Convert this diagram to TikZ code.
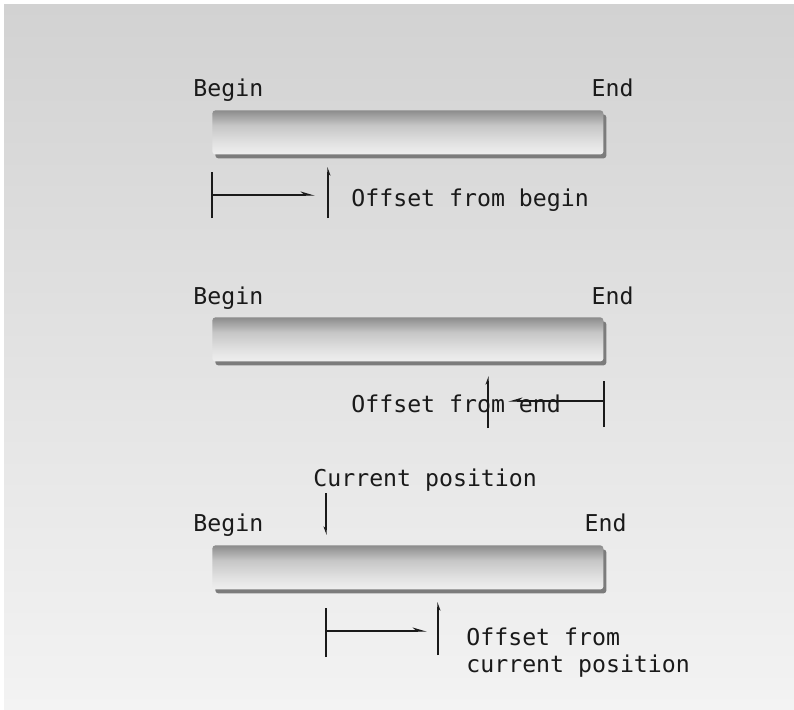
\documentclass[tikz,border=0pt]{standalone}
\usepackage{fontspec}
\setmonofont{DejaVu Sans Mono}
\usepackage{tikz}
\usetikzlibrary{arrows.meta,positioning}

\definecolor{bgtop}{HTML}{D2D2D2}
\definecolor{bgbot}{HTML}{F3F3F3}
\definecolor{bartop}{HTML}{8C8C8C}
\definecolor{barmid}{HTML}{C6C6C6}
\definecolor{barpale}{HTML}{E2E2E2}
\definecolor{barlow}{HTML}{EFEFEF}
\definecolor{baredge}{HTML}{7C7C7C}
\definecolor{ink}{HTML}{1A1A1A}

\pgfdeclareverticalshading{barshade}{100bp}{color(0bp)=(barlow); color(25bp)=(barlow); color(38bp)=(barpale); color(58bp)=(barmid); color(75bp)=(bartop); color(100bp)=(bartop)}

\tikzset{
  lbl/.style={font=\ttfamily\fontsize{11.6}{13.5}\selectfont, text=ink, inner sep=0pt, align=left},
  bar/.style={shade, shading=barshade, minimum width=195.5pt, minimum height=22pt, inner sep=0pt, rounded corners=1.5pt, anchor=north west},
  barback/.style={fill=baredge, minimum width=195.5pt, minimum height=22pt, inner sep=0pt, rounded corners=1.5pt, anchor=north west},
  tickline/.style={draw=ink, line width=0.7pt},
  tickflag/.style={draw=ink, line width=0.7pt, -{Stealth[harpoon,length=3.5pt,width=2.5pt]}},
  offarrow/.style={draw=ink, line width=0.7pt, -{Stealth[harpoon,length=6pt,width=3.5pt]}}
}

\begin{document}
\begin{tikzpicture}[x=0.5pt,y=-0.5pt]
  \useasboundingbox (0,0) rectangle (794,709);
  % Background
  \fill[white] (0,0) rectangle (794,709);
  \shade[top color=bgtop, bottom color=bgbot] (4,4) rectangle (794,709);

  % Offset from begin
  \node[lbl, anchor=base west] (beginA) at (193,96) {Begin};
  \node[lbl, anchor=base east] (endA) at (634,96) {End};
  \node[barback] (shadowA) at (215,114) {};
  \node[bar] (barA) at (212,110) {};
  \coordinate (tickAa) at (212,218);
  \coordinate (tickAb) at (212,172);
  \coordinate (tickAc) at (328,218);
  \coordinate (tickAd) at (328,167);
  \coordinate (fromA) at (212,195);
  \coordinate (toA) at (315,195);
  \draw[tickline] (tickAa) -- (tickAb);
  \draw[tickflag, -{Stealth[harpoon,swap,length=3.5pt,width=2.5pt]}] (tickAc) -- (tickAd);
  \draw[offarrow] (fromA) -- (toA);
  \node[lbl, anchor=base west] (textA) at (351,206) {Offset from begin};

  % Offset from end
  \node[lbl, anchor=base west] (beginB) at (193,304) {Begin};
  \node[lbl, anchor=base east] (endB) at (634,304) {End};
  \node[barback] (shadowB) at (215,321) {};
  \node[bar] (barB) at (212,317) {};
  \node[lbl, anchor=base west] (textB) at (351,412) {Offset from end};
  \coordinate (tickBa) at (604,427);
  \coordinate (tickBb) at (604,381);
  \coordinate (tickBc) at (488,428);
  \coordinate (tickBd) at (488,376);
  \coordinate (fromB) at (604,401);
  \coordinate (toB) at (508,401);
  \draw[tickline] (tickBa) -- (tickBb);
  \draw[tickflag] (tickBc) -- (tickBd);
  \draw[offarrow, -{Stealth[harpoon,swap,length=6pt,width=3.5pt]}] (fromB) -- (toB);

  % Offset from current position
  \node[lbl, anchor=base west] (current) at (313,486) {Current position};
  \coordinate (curTop) at (326,493);
  \coordinate (curBot) at (326,535);
  \draw[tickflag, -{Stealth[harpoon,swap,length=3.5pt,width=2.5pt]}] (curTop) -- (curBot);
  \node[lbl, anchor=base west] (beginC) at (193,531) {Begin};
  \node[lbl, anchor=base east] (endC) at (627,531) {End};
  \node[barback] (shadowC) at (215,549) {};
  \node[bar] (barC) at (212,545) {};
  \coordinate (tickCa) at (326,657);
  \coordinate (tickCb) at (326,608);
  \coordinate (tickCc) at (438,655);
  \coordinate (tickCd) at (438,602);
  \coordinate (fromC) at (326,631);
  \coordinate (toC) at (427,631);
  \draw[tickline] (tickCa) -- (tickCb);
  \draw[tickflag, -{Stealth[harpoon,swap,length=3.5pt,width=2.5pt]}] (tickCc) -- (tickCd);
  \draw[offarrow] (fromC) -- (toC);
  \node[lbl, anchor=base west] (textC) at (466,672) {Offset from\\current position};
\end{tikzpicture}
\end{document}
